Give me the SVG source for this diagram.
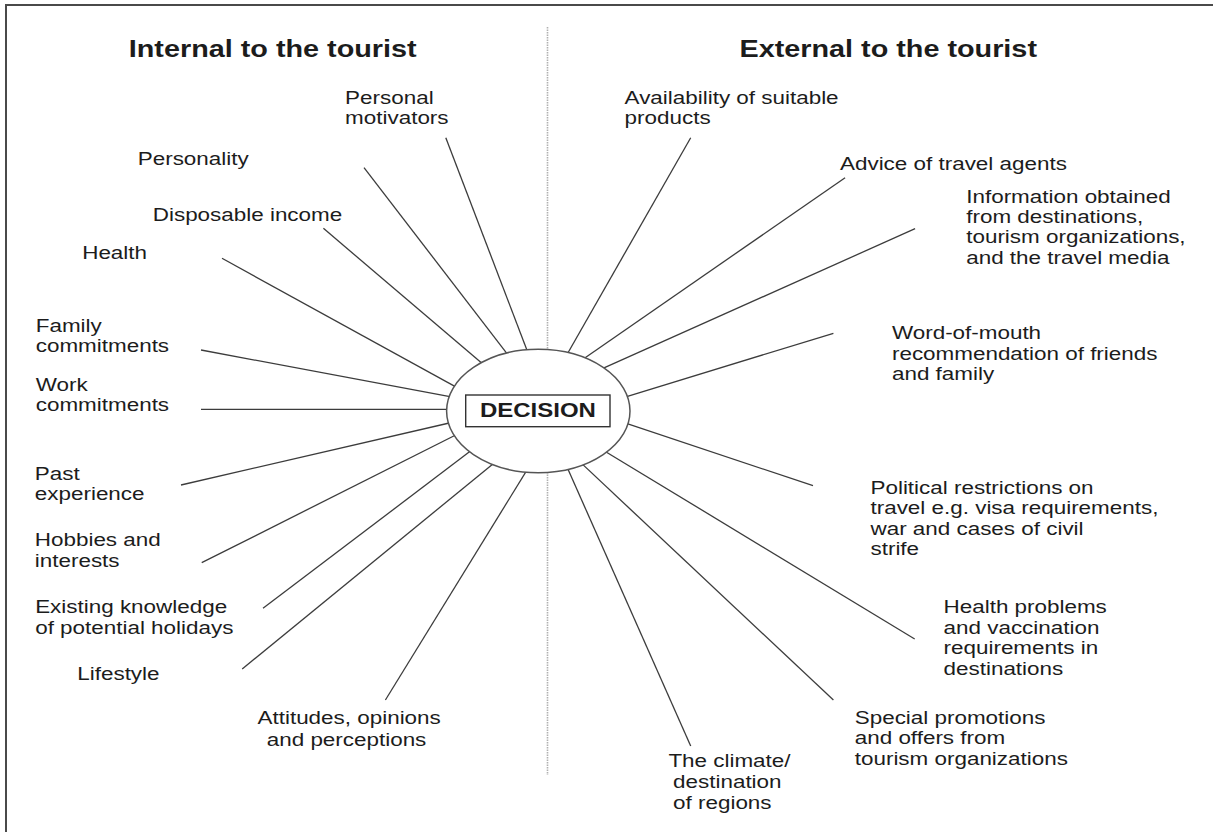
<svg xmlns="http://www.w3.org/2000/svg" width="1213" height="832" viewBox="0 0 1213 832">
<style>
text { font-family: "Liberation Sans", Arial, Helvetica, sans-serif; fill: #1c1c1c; }
.lbl { font-size: 18.7px; }
.ttl { font-size: 24px; font-weight: bold; }
.dec { font-size: 20px; font-weight: bold; }
.conn line { stroke: #3c3c3c; stroke-width: 1.3; fill: none; }
</style>
<rect x="0" y="0" width="1213" height="832" fill="#ffffff"/>
<path d="M6,832 V5 H1213" fill="none" stroke="#4a4a4a" stroke-width="2"/>
<line x1="547.5" y1="27" x2="547.5" y2="775" stroke="#b0b0b0" stroke-width="1.6" stroke-dasharray="1.5 1"/>

<g id="connectors" class="conn">
<line x1="445.8" y1="137.7" x2="528.8" y2="354.9"/>
<line x1="364" y1="167.7" x2="509.7" y2="357.1"/>
<line x1="323.4" y1="228.3" x2="484.6" y2="365.6"/>
<line x1="222" y1="258.3" x2="457.6" y2="387.9"/>
<line x1="201" y1="350" x2="452.6" y2="397.1"/>
<line x1="201" y1="409.3" x2="452.7" y2="409.3"/>
<line x1="181" y1="485" x2="453.6" y2="422"/>
<line x1="201.7" y1="562.7" x2="457.7" y2="434"/>
<line x1="263" y1="608.3" x2="473.1" y2="449.1"/>
<line x1="242.2" y1="669" x2="496.3" y2="461.2"/>
<line x1="385.4" y1="700" x2="529.1" y2="466.6"/>
<line x1="690.7" y1="137.7" x2="565.3" y2="357.5"/>
<line x1="845.1" y1="177.7" x2="580.8" y2="360.7"/>
<line x1="915.1" y1="228.7" x2="601.2" y2="369.1"/>
<line x1="833.4" y1="333.3" x2="622.6" y2="397.8"/>
<line x1="813" y1="485.7" x2="622.6" y2="422.1"/>
<line x1="914.7" y1="639" x2="603.2" y2="450.2"/>
<line x1="833.4" y1="700" x2="578.9" y2="460.9"/>
<line x1="690.7" y1="746" x2="565.9" y2="464.5"/>
</g>

<g id="decision">
<ellipse cx="538.3" cy="411" rx="91.7" ry="61.7" fill="#ffffff" stroke="#555555" stroke-width="1.5"/>
<rect x="465.7" y="395" width="144.3" height="31.7" fill="#ffffff" stroke="#333333" stroke-width="1.4"/>
<text class="dec" transform="scale(1.2,1)" x="448.3" y="417.3" text-anchor="middle">DECISION</text>
</g>

<g id="title-internal" transform="scale(1.2,1)">
<text class="ttl" x="107.3" y="57">Internal to the tourist</text>
</g>
<g id="title-external" transform="scale(1.2,1)">
<text class="ttl" x="616.2" y="57">External to the tourist</text>
</g>

<g id="n-personal-motivators" transform="scale(1.2,1)">
<text class="lbl"><tspan x="287.6" y="104">Personal</tspan><tspan x="287.6" y="124.3">motivators</tspan></text>
</g>
<g id="n-personality" transform="scale(1.2,1)">
<text class="lbl" x="114.8" y="165">Personality</text>
</g>
<g id="n-disposable-income" transform="scale(1.2,1)">
<text class="lbl" x="127.3" y="220.7">Disposable income</text>
</g>
<g id="n-health" transform="scale(1.2,1)">
<text class="lbl" x="68.5" y="259">Health</text>
</g>
<g id="n-family" transform="scale(1.2,1)">
<text class="lbl"><tspan x="29.8" y="331.7">Family</tspan><tspan x="29.8" y="351.7">commitments</tspan></text>
</g>
<g id="n-work" transform="scale(1.2,1)">
<text class="lbl"><tspan x="29.8" y="390.7">Work</tspan><tspan x="29.8" y="411">commitments</tspan></text>
</g>
<g id="n-past" transform="scale(1.2,1)">
<text class="lbl"><tspan x="29" y="480">Past</tspan><tspan x="29" y="500.3">experience</tspan></text>
</g>
<g id="n-hobbies" transform="scale(1.2,1)">
<text class="lbl"><tspan x="29" y="546.3">Hobbies and</tspan><tspan x="29" y="566.7">interests</tspan></text>
</g>
<g id="n-existing" transform="scale(1.2,1)">
<text class="lbl"><tspan x="29.3" y="613.3">Existing knowledge</tspan><tspan x="29.3" y="634">of potential holidays</tspan></text>
</g>
<g id="n-lifestyle" transform="scale(1.2,1)">
<text class="lbl" x="64.4" y="680">Lifestyle</text>
</g>
<g id="n-attitudes" transform="scale(1.2,1)">
<text class="lbl"><tspan x="214.6" y="724">Attitudes, opinions</tspan><tspan x="222.3" y="746">and perceptions</tspan></text>
</g>

<g id="n-availability" transform="scale(1.2,1)">
<text class="lbl"><tspan x="520.5" y="104">Availability of suitable</tspan><tspan x="520.5" y="124.3">products</tspan></text>
</g>
<g id="n-advice" transform="scale(1.2,1)">
<text class="lbl" x="700" y="170">Advice of travel agents</text>
</g>
<g id="n-information" transform="scale(1.2,1)">
<text class="lbl"><tspan x="805.2" y="202.7">Information obtained</tspan><tspan x="805.2" y="223">from destinations,</tspan><tspan x="805.2" y="243.3">tourism organizations,</tspan><tspan x="805.2" y="264">and the travel media</tspan></text>
</g>
<g id="n-word-of-mouth" transform="scale(1.2,1)">
<text class="lbl"><tspan x="743.3" y="339.3">Word-of-mouth</tspan><tspan x="743.3" y="359.7">recommendation of friends</tspan><tspan x="743.3" y="380">and family</tspan></text>
</g>
<g id="n-political" transform="scale(1.2,1)">
<text class="lbl"><tspan x="725.4" y="494">Political restrictions on</tspan><tspan x="725.4" y="514.5">travel e.g. visa requirements,</tspan><tspan x="725.4" y="535">war and cases of civil</tspan><tspan x="725.4" y="555.5">strife</tspan></text>
</g>
<g id="n-health-problems" transform="scale(1.2,1)">
<text class="lbl"><tspan x="786.3" y="613.3">Health problems</tspan><tspan x="786.3" y="634">and vaccination</tspan><tspan x="786.3" y="654.3">requirements in</tspan><tspan x="786.3" y="675">destinations</tspan></text>
</g>
<g id="n-special-promotions" transform="scale(1.2,1)">
<text class="lbl"><tspan x="712.3" y="724">Special promotions</tspan><tspan x="712.3" y="744.3">and offers from</tspan><tspan x="712.3" y="765">tourism organizations</tspan></text>
</g>
<g id="n-climate" transform="scale(1.2,1)">
<text class="lbl"><tspan x="557" y="767.3">The climate/</tspan><tspan x="560.9" y="788.3">destination</tspan><tspan x="560.9" y="809.3">of regions</tspan></text>
</g>
</svg>
